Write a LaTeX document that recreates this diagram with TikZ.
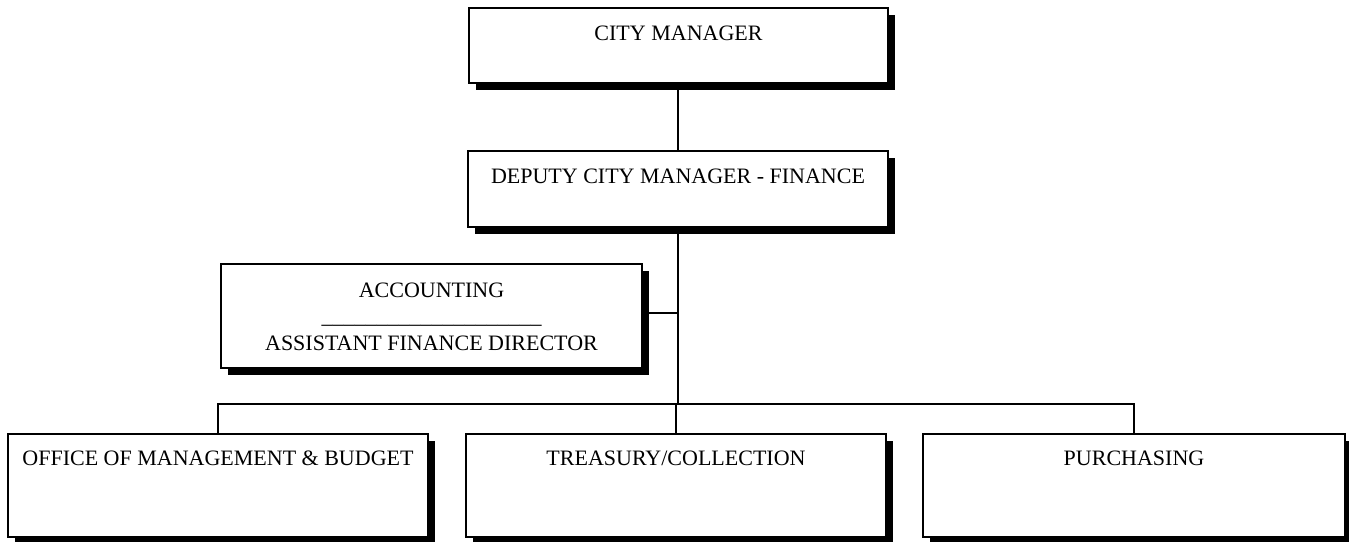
\documentclass[tikz,border=0pt]{standalone}
\usepackage{fontspec}
\setmainfont{Liberation Serif}
\usetikzlibrary{shadows}
\begin{document}
\begin{tikzpicture}[x=1pt,y=-1pt,
  orgbox/.style={draw=black, line width=1.8pt, fill=white, inner sep=0pt,
    font=\fontsize{22}{26.5}\selectfont, align=center,
    drop shadow={shadow xshift=7pt, shadow yshift=-7pt, fill=black, opacity=1}},
  topbox/.style={orgbox, text height=32.5pt, text depth=43pt},
  lowbox/.style={orgbox, text height=31.5pt, text depth=71.5pt},
  link/.style={draw=black, line width=1.8pt}]
\useasboundingbox (0,0) rectangle (1349,541);

\node[topbox, minimum width=419pt] (cm) at (678.5,45.5) {CITY MANAGER};
\node[topbox, minimum width=420pt, text depth=43.5pt] (dep) at (678,189) {DEPUTY CITY MANAGER - FINANCE};
\node[orgbox, minimum width=421pt, minimum height=104pt] (acc) at (431.5,316)
  {\parbox[c][104pt][t]{421pt}{\centering\rule{0pt}{33pt}ACCOUNTING\\
   \_\_\_\_\_\_\_\_\_\_\_\_\_\_\_\_\_\_\_\_\\
   ASSISTANT FINANCE DIRECTOR}};
\node[lowbox, minimum width=420pt] (omb) at (218,485.5) {OFFICE OF MANAGEMENT \& BUDGET};
\node[lowbox, minimum width=420pt] (tre) at (676,485.5) {TREASURY/COLLECTION};
\node[lowbox, minimum width=422pt] (pur) at (1134,485.5) {PURCHASING};

\coordinate (bus) at (678,404);
\coordinate (accj) at (678,313);

\draw[link] (cm.south -| dep.north) -- (dep.north);
\draw[link] (dep.south) -- (bus);
\draw[link] (acc.east |- accj) -- (accj);
\draw[link] (omb.north) -- (omb.north |- bus) -| (pur.north);
\draw[link] (tre.north) -- (tre.north |- bus);
\end{tikzpicture}
\end{document}
